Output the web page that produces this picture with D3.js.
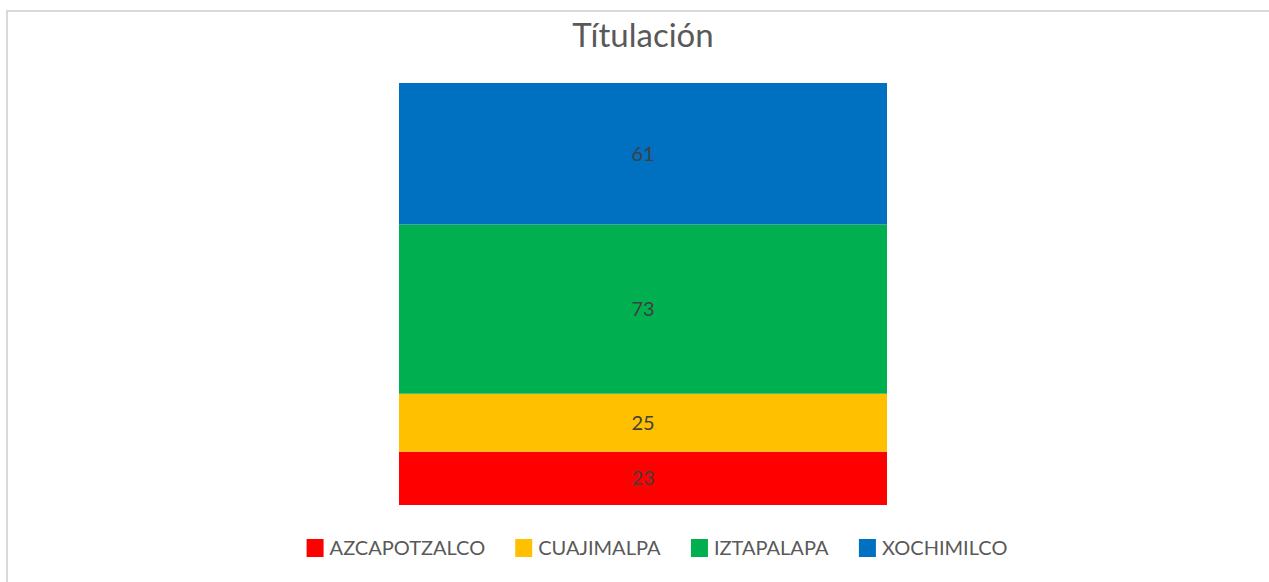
<!DOCTYPE html>
<html>
<head>
<meta charset="utf-8">
<script src="https://cdn.jsdelivr.net/npm/d3@7"></script>
<style>
  body { margin: 0; background: #fff; }
  text { font-family: Lato, "Liberation Sans", sans-serif; }
</style>
</head>
<body>
<div id="chart"></div>
<script>
var svgWidth = 1269;
var svgHeight = 582;

var title = "Títulación";
var categories = ["AZCAPOTZALCO", "CUAJIMALPA", "IZTAPALAPA", "XOCHIMILCO"];
var values = [23, 25, 73, 61];
var colors = ["#ff0000", "#ffc000", "#00b050", "#0070c0"];

var margin = { top: 83, bottom: 77 };

var svg = d3.select("#chart")
    .append("svg")
    .attr("width", svgWidth)
    .attr("height", svgHeight);

// outer chart border
svg.append("rect")
    .attr("x", 7)
    .attr("y", 11)
    .attr("width", svgWidth + 10)
    .attr("height", svgHeight + 10)
    .attr("fill", "none")
    .attr("stroke", "#d9d9d9")
    .attr("stroke-width", 2);

svg.append("text")
    .attr("x", 643)
    .attr("y", 47)
    .attr("text-anchor", "middle")
    .attr("font-size", 33)
    .attr("fill", "#595959")
    .text(title);

var total = d3.sum(values);
var stacked = [];
var acc = 0;
values.forEach(function(v, i) {
    stacked.push({ name: categories[i], value: v, y0: acc, y1: acc + v, color: colors[i] });
    acc += v;
});

var xScale = d3.scaleBand()
    .domain(["Títulación"])
    .range([399, 887])
    .padding(0);

var yScale = d3.scaleLinear()
    .domain([0, total])
    .range([svgHeight - margin.bottom, margin.top]);

var bars = svg.append("g");

bars.selectAll("rect")
    .data(stacked)
    .enter()
    .append("rect")
    .attr("x", xScale("Títulación"))
    .attr("width", xScale.bandwidth())
    .attr("y", function(d) { return yScale(d.y1); })
    .attr("height", function(d) { return yScale(d.y0) - yScale(d.y1); })
    .attr("fill", function(d) { return d.color; });

bars.selectAll("text")
    .data(stacked)
    .enter()
    .append("text")
    .attr("x", xScale("Títulación") + xScale.bandwidth() / 2)
    .attr("y", function(d) { return (yScale(d.y0) + yScale(d.y1)) / 2; })
    .attr("dy", "0.35em")
    .attr("text-anchor", "middle")
    .attr("font-size", 20)
    .attr("fill", "#404040")
    .text(function(d) { return d.value; });

// legend, laid out by measured text widths and then centred
var legend = svg.append("g");
var items = legend.selectAll("g")
    .data(stacked)
    .enter()
    .append("g");

items.append("rect")
    .attr("width", 17)
    .attr("height", 18)
    .attr("y", -16)
    .attr("fill", function(d) { return d.color; });

items.append("text")
    .attr("x", 23)
    .attr("y", 0)
    .attr("font-size", 20)
    .attr("fill", "#595959")
    .text(function(d) { return d.name; });

var xPos = 0;
items.each(function() {
    var w = this.getBBox().width;
    d3.select(this).attr("transform", "translate(" + xPos + ",0)");
    xPos += w + 30;
});
var legendWidth = xPos - 30;
legend.attr("transform", "translate(" + (657 - legendWidth / 2) + ",555)");
</script>
</body>
</html>
